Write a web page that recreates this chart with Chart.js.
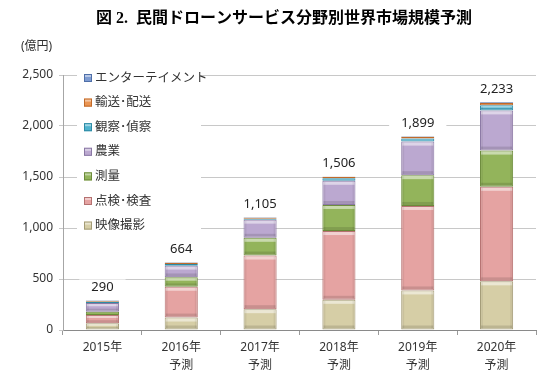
<!DOCTYPE html>
<html>
<head>
<meta charset="utf-8">
<script src="https://cdn.jsdelivr.net/npm/chart.js@4.4.1/dist/chart.umd.min.js"></script>
<style>
  html, body { margin: 0; padding: 0; background: #fff; }
</style>
</head>
<body>
<canvas id="chart" width="557" height="379"></canvas>
<script>
var titleText = '図 2.  民間ドローンサービス分野別世界市場規模予測';
var unitText = '(億円)';

var years = [['2015年'], ['2016年', '予測'], ['2017年', '予測'], ['2018年', '予測'], ['2019年', '予測'], ['2020年', '予測']];
var seriesNames = ['映像撮影', '点検･検査', '測量', '農業', '観察･偵察', '輸送･配送', 'エンターテイメント'];

var filming = [66, 122, 204, 296, 388, 477];
var inspection = [82, 302, 526, 674, 828, 927];
var surveying = [30, 92, 174, 256, 302, 355];
var agriculture = [86, 115, 178, 237, 329, 394];
var observation = [12, 15, 8, 25, 30, 50];
var transport = [9, 13, 11, 14, 17, 22];
var entertainment = [5, 5, 4, 4, 5, 8];
var totals = [290, 664, 1105, 1506, 1899, 2233];

var yTicks = [0, 500, 1000, 1500, 2000, 2500];

var fills = ['#D6CEA6', '#E5A3A2', '#93B45B', '#BBA8D0', '#4FB3CE', '#EB9552', '#7E9CD2'];
var borders = ['#A39B76', '#B57170', '#6B8A3A', '#8A78A4', '#2E8AA5', '#C06A2A', '#4F6FA8'];

var FONT = '"Noto Sans", "Noto Sans CJK JP", sans-serif';

var seriesData = [filming, inspection, surveying, agriculture, observation, transport, entertainment];
var datasets = seriesData.map(function (d, i) {
  return {
    label: seriesNames[i],
    data: d,
    backgroundColor: fills[i],
    borderColor: borders[i],
    borderWidth: 1,
    borderSkipped: false,
    categoryPercentage: 1,
    barPercentage: 0.42
  };
});

// title + unit label
var titlePlugin = {
  id: 'titles',
  afterDraw: function (chart) {
    var ctx = chart.ctx;
    ctx.save();
    ctx.fillStyle = '#000';
    ctx.textBaseline = 'middle';
    ctx.textAlign = 'center';
    ctx.font = 'bold 16px "Liberation Serif", "Noto Sans CJK JP", serif';
    ctx.fillText(titleText, 284, 19);
    ctx.textAlign = 'left';
    ctx.font = '12px ' + FONT;
    ctx.fillStyle = '#333';
    ctx.fillText(unitText, 21, 47);
    ctx.restore();
  }
};

// bevel look on the bar segments
var bevelPlugin = {
  id: 'bevel',
  afterDatasetsDraw: function (chart) {
    var ctx = chart.ctx;
    ctx.save();
    chart.data.datasets.forEach(function (ds, i) {
      chart.getDatasetMeta(i).data.forEach(function (el) {
        var p = el.getProps(['x', 'y', 'base', 'width'], true);
        var left = p.x - p.width / 2;
        var top = Math.min(p.y, p.base);
        var h = Math.abs(p.base - p.y);
        if (h < 4) return;
        var s = Math.min(3, h / 4);
        ctx.fillStyle = 'rgba(255,255,255,0.5)';
        ctx.fillRect(left + 1, top + 1, p.width - 2, s);
        ctx.fillStyle = 'rgba(0,0,0,0.12)';
        ctx.fillRect(left + 1, top + h - 1 - s, p.width - 2, s);
        ctx.fillStyle = 'rgba(0,0,0,0.06)';
        ctx.fillRect(left + 1, top + 1, 2, h - 2);
        ctx.fillRect(left + p.width - 3, top + 1, 2, h - 2);
      });
    });
    ctx.restore();
  }
};

// totals above stacks
var totalsPlugin = {
  id: 'totals',
  afterDatasetsDraw: function (chart) {
    var ctx = chart.ctx;
    var xs = chart.scales.x, ys = chart.scales.y;
    ctx.save();
    ctx.font = '13px ' + FONT;
    ctx.textAlign = 'center';
    ctx.textBaseline = 'middle';
    totals.forEach(function (t, i) {
      var txt = t.toLocaleString('en-US');
      var x = xs.getPixelForValue(i);
      var y = ys.getPixelForValue(t) - 13;
      var w = ctx.measureText(txt).width + 24;
      ctx.fillStyle = '#fff';
      ctx.fillRect(x - w / 2, y - 8, w, 16);
      ctx.fillStyle = '#222';
      ctx.fillText(txt, x, y);
    });
    ctx.restore();
  }
};

// legend inside the plot, reversed order
var legendPlugin = {
  id: 'innerLegend',
  afterDraw: function (chart) {
    var ctx = chart.ctx;
    ctx.save();
    ctx.fillStyle = '#fff';
    ctx.fillRect(77, 68, 124, 168);
    ctx.font = '12.5px ' + FONT;
    ctx.textAlign = 'left';
    ctx.textBaseline = 'middle';
    var n = seriesNames.length;
    for (var k = 0; k < n; k++) {
      var i = n - 1 - k;
      var y = 78 + k * 24.6;
      ctx.fillStyle = fills[i];
      ctx.fillRect(84, y - 4, 8, 8);
      ctx.strokeStyle = borders[i];
      ctx.lineWidth = 1;
      ctx.strokeRect(84.5, y - 3.5, 7, 7);
      ctx.fillStyle = 'rgba(255,255,255,0.45)';
      ctx.fillRect(85, y - 3, 6, 2);
      ctx.fillStyle = '#333';
      ctx.fillText(seriesNames[i], 95, y);
    }
    ctx.restore();
  }
};

new Chart(document.getElementById('chart'), {
  type: 'bar',
  data: { labels: years, datasets: datasets },
  plugins: [titlePlugin, bevelPlugin, totalsPlugin, legendPlugin],
  options: {
    responsive: false,
    devicePixelRatio: 1,
    animation: false,
    layout: { padding: { top: 75, left: 0, right: 21, bottom: 0 } },
    plugins: {
      legend: { display: false },
      title: { display: false },
      tooltip: { enabled: false }
    },
    scales: {
      x: {
        stacked: true,
        grid: { display: true, drawOnChartArea: false, drawTicks: true, tickLength: 5, color: '#9a9a9a', offset: true },
        border: { display: true, color: '#8a8a8a' },
        ticks: { color: '#333', font: { family: FONT, size: 12, lineHeight: 1.5 }, padding: 4, maxRotation: 0 },
        afterFit: function (scale) { scale.height = 49; }
      },
      y: {
        stacked: true,
        min: 0,
        max: 2500,
        grid: { color: '#c8c8c8', tickLength: 4, drawTicks: true },
        border: { display: true, color: '#a6a6a6' },
        afterBuildTicks: function (scale) {
          scale.ticks = yTicks.map(function (v) { return { value: v }; });
        },
        ticks: {
          color: '#333',
          padding: 6,
          font: { family: FONT, size: 12 },
          callback: function (v) { return Number(v).toLocaleString('en-US'); }
        },
        afterFit: function (scale) { scale.width = 63; }
      }
    }
  }
});
</script>
</body>
</html>
